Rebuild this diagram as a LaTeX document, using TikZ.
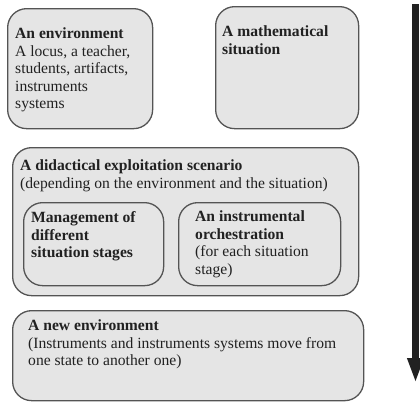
\documentclass[tikz,border=0pt]{standalone}
\usepackage{fontspec}
\setmainfont{Liberation Serif}
\usetikzlibrary{arrows.meta,calc}

\definecolor{boxfill}{gray}{0.9}
\definecolor{boxline}{gray}{0.33}
\definecolor{inkgray}{gray}{0.13}

\begin{document}
\begin{tikzpicture}[x=1pt,y=1pt,>=Latex,
  font=\fontsize{15.6}{17.5}\selectfont,
  every node/.style={inner sep=0pt},
  box/.style={draw=boxline,fill=boxfill,line width=1.3pt,
    rounded corners=19pt,anchor=north west},
  txt/.style={anchor=north west,align=left,text=inkgray}]
\path[use as bounding box] (0,-402) rectangle (420,0);

% upper row
\node[box,minimum width=145,minimum height=120] (env) at (7,-8) {};
\node[txt] (envtxt) at ($(env.north west)+(8,-19.5)$)
  {\textbf{An environment}\\A locus, a teacher,\\students, artifacts,\\
   instruments\\systems};
\node[box,minimum width=143,minimum height=122] (sit) at (215,-6) {};
\node[txt] (sittxt) at ($(sit.north west)+(7,-19.5)$)
  {\textbf{A mathematical}\\\textbf{situation}};

% scenario and its two parts
\node[box,minimum width=346,minimum height=148] (scen) at (12,-147) {};
\node[txt] (scentxt) at ($(scen.north west)+(8,-12.5)$)
  {\textbf{A didactical exploitation scenario}\\
   (depending on the environment and the situation)};
\node[box,minimum width=140,minimum height=83] (manag) at (23,-202) {};
\node[txt] (managtxt) at ($(manag.north west)+(8,-9.5)$)
  {\textbf{Management of}\\\textbf{different}\\\textbf{situation stages}};
\node[box,minimum width=162,minimum height=83] (orch) at (178,-202) {};
\node[txt] (orchtxt) at ($(orch.north west)+(17,-8.5)$)
  {\textbf{An instrumental}\\\textbf{orchestration}\\(for each situation\\stage)};

% new environment
\node[box,minimum width=351,minimum height=90] (newenv) at (12,-310) {};
\node[txt] (newenvtxt) at ($(newenv.north west)+(16,-9.5)$)
  {\textbf{A new environment}\\
   (Instruments and instruments systems move from\\
   one state to another one)};

% time arrow
\coordinate (start) at (415.5,-4);
\coordinate (stop) at (415.5,-383);
\draw[inkgray,line width=7pt,-{Triangle[width=15pt,length=25pt]}] (start)--(stop);
\end{tikzpicture}
\end{document}
